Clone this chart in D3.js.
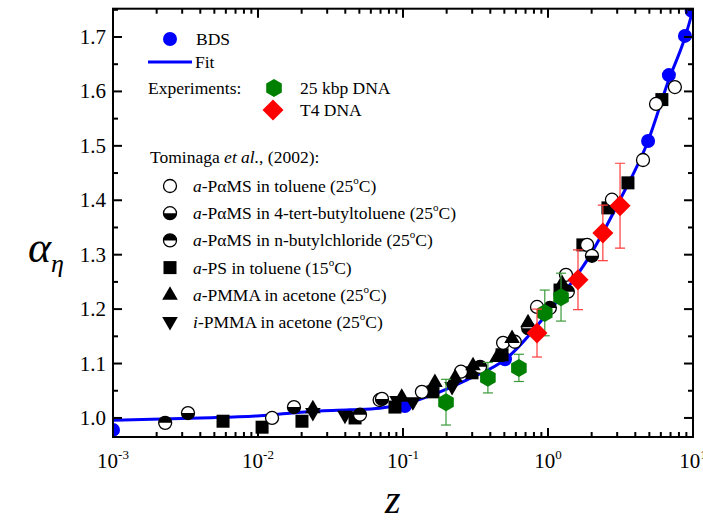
<!DOCTYPE html>
<html lang="en"><head>
<meta charset="utf-8">
<title>alpha_eta vs z</title>
<script src="https://cdn.jsdelivr.net/npm/d3@7"></script>
<style>
  body { margin: 0; background: #fff; }
  text { font-family: "Liberation Serif", "Times New Roman", serif; fill: #000; }
</style>
</head>
<body>
<svg width="703" height="525"></svg>
<script>
// ---- values ----
// BDS simulation points
var bdsZ = [0.001, 0.103, 0.505, 4.9, 6.82, 8.8, 9.8];
var bdsA = [0.978, 1.022, 1.108, 1.509, 1.630, 1.702, 1.748];

// fit curve
var fitZ = [0.001, 0.004, 0.0103, 0.021, 0.043, 0.069, 0.103, 0.18, 0.276, 0.52, 0.98, 1.86, 3.14, 4.9, 6.8, 8.8, 10];
var fitA = [0.996, 1.000, 1.004, 1.011, 1.015, 1.018, 1.026, 1.048, 1.070, 1.110, 1.191, 1.290, 1.401, 1.509, 1.621, 1.699, 1.750];

// experiments
var dna25Z = [0.198, 0.385, 0.63, 0.95, 1.23];
var dna25A = [1.029, 1.074, 1.092, 1.193, 1.222];
var dna25E = [0.042, 0.028, 0.025, 0.042, 0.044];

var t4Z = [0.84, 1.61, 2.39, 3.14];
var t4A = [1.156, 1.254, 1.340, 1.390];
var t4E = [0.044, 0.055, 0.051, 0.078];

// Tominaga et al. (2002)
var pamsTolZ = [0.0125, 0.069, 0.135, 0.251, 0.49, 0.59, 0.84, 1.33, 1.86, 2.76, 4.52, 5.56, 7.5];
var pamsTolA = [1.000, 1.033, 1.048, 1.085, 1.138, 1.140, 1.204, 1.263, 1.318, 1.401, 1.474, 1.577, 1.608];

var pamsTbtZ = [0.00329, 0.0177, 0.0716, 0.73, 2.01];
var pamsTbtA = [1.009, 1.020, 1.035, 1.165, 1.298];

var pamsNbcZ = [0.00229, 0.0505, 0.340, 1.03, 1.37];
var pamsNbcA = [0.991, 1.006, 1.094, 1.202, 1.232];

var psTolZ = [0.00574, 0.01067, 0.0201, 0.0467, 0.088, 0.161, 0.299, 0.482, 1.21, 1.74, 2.59, 3.56, 6.1];
var psTolA = [0.994, 0.983, 0.994, 1.000, 1.020, 1.048, 1.083, 1.116, 1.235, 1.318, 1.386, 1.432, 1.585];

var aPmmaZ = [0.0239, 0.098, 0.166, 0.229, 0.304, 0.445, 0.565, 0.728, 1.25];
var aPmmaA = [1.018, 1.039, 1.066, 1.075, 1.097, 1.112, 1.147, 1.176, 1.248];

var iPmmaZ = [0.0239, 0.0398, 0.091, 0.117, 0.218];
var iPmmaA = [1.009, 1.004, 1.031, 1.029, 1.057];

var xTickVals = [1e-3, 1e-2, 1e-1, 1, 10];
var xTickExp = ["-3", "-2", "-1", "0", "1"];
var yTickVals = [1.0, 1.1, 1.2, 1.3, 1.4, 1.5, 1.6, 1.7];
var yTickLabels = ["1.0", "1.1", "1.2", "1.3", "1.4", "1.5", "1.6", "1.7"];

// ---- layout ----
var svg = d3.select("svg");
var pLeft = 113, pRight = 693, pTop = 8.7, pBottom = 437;

var x = d3.scaleLog().domain([1e-3, 10]).range([pLeft, pRight]);
var y = d3.scaleLinear().domain([0.965, 1.752]).range([pBottom, pTop]);

function zip(a, b) { return a.map(function (v, i) { return [v, b[i]]; }); }

svg.append("clipPath").attr("id", "clip")
  .append("rect").attr("x", pLeft).attr("y", pTop).attr("width", pRight - pLeft).attr("height", pBottom - pTop);

var plot = svg.append("g").attr("clip-path", "url(#clip)");

// marker drawing
function marker(g, type, cx, cy) {
  var m = g.append("g").attr("transform", "translate(" + cx + "," + cy + ")");
  var r = 6.5;
  if (type == "open" || type == "halfTop" || type == "halfBottom") {
    m.append("circle").attr("r", r).attr("fill", "#fff").attr("stroke", "#000").attr("stroke-width", 1.3);
    if (type == "halfTop")
      m.append("path").attr("d", "M" + (-r) + ",0A" + r + "," + r + " 0 0 1 " + r + ",0Z").attr("fill", "#000");
    if (type == "halfBottom")
      m.append("path").attr("d", "M" + (-r) + ",0A" + r + "," + r + " 0 0 0 " + r + ",0Z").attr("fill", "#000");
  } else if (type == "square") {
    m.append("rect").attr("x", -6.5).attr("y", -6.5).attr("width", 13).attr("height", 13).attr("fill", "#000");
  } else if (type == "up") {
    m.append("path").attr("d", "M0,-8.5L7.8,5L-7.8,5Z").attr("fill", "#000");
  } else if (type == "down") {
    m.append("path").attr("d", "M0,8.5L7.8,-5L-7.8,-5Z").attr("fill", "#000");
  } else if (type == "bds") {
    m.append("circle").attr("r", 7).attr("fill", "#0000ff");
  } else if (type == "hex") {
    var pts = d3.range(6).map(function (i) {
      var a = Math.PI / 3 * i - Math.PI / 2;
      return [9 * Math.cos(a), 9 * Math.sin(a)];
    });
    m.append("path").attr("d", "M" + pts.join("L") + "Z").attr("fill", "#008000");
  } else if (type == "diamond") {
    m.append("path").attr("d", "M0,-10.5L10.5,0L0,10.5L-10.5,0Z").attr("fill", "#ff0000");
  }
}

// fit line
var line = d3.line()
  .x(function (d) { return x(d[0]); })
  .y(function (d) { return y(d[1]); })
  .curve(d3.curveMonotoneX);

plot.append("path")
  .datum(zip(fitZ, fitA))
  .attr("d", line)
  .attr("fill", "none")
  .attr("stroke", "#0000ff")
  .attr("stroke-width", 3);

// BDS points
zip(bdsZ, bdsA).forEach(function (d) { marker(plot, "bds", x(d[0]), y(d[1])); });

// Tominaga sets
var sets = [
  ["square", psTolZ, psTolA],
  ["open", pamsTolZ, pamsTolA],
  ["halfBottom", pamsTbtZ, pamsTbtA],
  ["halfTop", pamsNbcZ, pamsNbcA],
  ["up", aPmmaZ, aPmmaA],
  ["down", iPmmaZ, iPmmaA]
];
sets.forEach(function (s) {
  zip(s[1], s[2]).forEach(function (d) { marker(plot, s[0], x(d[0]), y(d[1])); });
});

// experiments with error bars
function errSet(zs, as, es, col, type) {
  zs.forEach(function (z, i) {
    var cx = x(z), y1 = y(as[i] - es[i]), y2 = y(as[i] + es[i]);
    var g = plot.append("g").attr("stroke", col).attr("stroke-width", 1.2);
    g.append("line").attr("x1", cx).attr("x2", cx).attr("y1", y1).attr("y2", y2);
    g.append("line").attr("x1", cx - 5).attr("x2", cx + 5).attr("y1", y1).attr("y2", y1);
    g.append("line").attr("x1", cx - 5).attr("x2", cx + 5).attr("y1", y2).attr("y2", y2);
  });
  zs.forEach(function (z, i) { marker(plot, type, x(z), y(as[i])); });
}
errSet(dna25Z, dna25A, dna25E, "#3a9a3a", "hex");
errSet(t4Z, t4A, t4E, "#ff3a3a", "diamond");

// ---- axes ----
var ax = svg.append("g").attr("stroke", "#000").attr("stroke-width", 2);
ax.append("rect").attr("x", pLeft).attr("y", pTop).attr("width", pRight - pLeft).attr("height", pBottom - pTop).attr("fill", "none");

var xMinor = [];
[1e-3, 1e-2, 1e-1, 1].forEach(function (d) { for (var k = 2; k <= 9; k++) xMinor.push(d * k); });
var yMinor = d3.range(1.05, 1.76, 0.1);

function xt(v, len) {
  ax.append("line").attr("x1", x(v)).attr("x2", x(v)).attr("y1", pBottom).attr("y2", pBottom - len);
  ax.append("line").attr("x1", x(v)).attr("x2", x(v)).attr("y1", pTop).attr("y2", pTop + len);
}
function yt(v, len) {
  ax.append("line").attr("x1", pLeft).attr("x2", pLeft + len).attr("y1", y(v)).attr("y2", y(v));
  ax.append("line").attr("x1", pRight).attr("x2", pRight - len).attr("y1", y(v)).attr("y2", y(v));
}
xTickVals.forEach(function (v) { xt(v, 9); });
xMinor.forEach(function (v) { xt(v, 5); });
yTickVals.forEach(function (v) { yt(v, 9); });
yMinor.forEach(function (v) { yt(v, 5); });

// tick labels
yTickVals.forEach(function (v, i) {
  svg.append("text").attr("x", 106).attr("y", y(v) + 7)
    .attr("text-anchor", "end").attr("font-size", 21).text(yTickLabels[i]);
});
xTickVals.forEach(function (v, i) {
  var t = svg.append("text").attr("x", x(v)).attr("y", 468)
    .attr("text-anchor", "middle").attr("font-size", 21);
  t.append("tspan").text("10");
  t.append("tspan").attr("font-size", 13).attr("dy", -9).text(xTickExp[i]);
});

// axis titles
var ytl = svg.append("text").attr("x", 28).attr("y", 262).attr("font-size", 44).attr("font-style", "italic");
ytl.append("tspan").text("\u03B1");
ytl.append("tspan").attr("font-size", 26).attr("dy", 10).text("\u03B7");

svg.append("text").attr("x", 385).attr("y", 513).attr("font-size", 40)
  .attr("font-style", "italic").text("z");

// ---- legend ----
var lg = svg.append("g");
var fs = 17.5;
marker(lg, "bds", 170, 39);
lg.append("text").attr("x", 196).attr("y", 45).attr("font-size", fs).text("BDS");
lg.append("line").attr("x1", 148).attr("x2", 192).attr("y1", 62).attr("y2", 62)
  .attr("stroke", "#0000ff").attr("stroke-width", 3);
lg.append("text").attr("x", 195).attr("y", 68).attr("font-size", fs).text("Fit");
lg.append("text").attr("x", 148).attr("y", 94).attr("font-size", fs).text("Experiments:");
marker(lg, "hex", 274, 88);
lg.append("text").attr("x", 300).attr("y", 94).attr("font-size", fs).text("25 kbp DNA");
marker(lg, "diamond", 273, 110);
lg.append("text").attr("x", 300).attr("y", 116).attr("font-size", fs).text("T4 DNA");

var tt = lg.append("text").attr("x", 150).attr("y", 163).attr("font-size", fs);
tt.append("tspan").text("Tominaga ");
tt.append("tspan").attr("font-style", "italic").text("et al.");
tt.append("tspan").text(", (2002):");

var legRows = [
  ["open", "a", "-P\u03B1MS in toluene (25", "C)"],
  ["halfBottom", "a", "-P\u03B1MS in 4-tert-butyltoluene (25", "C)"],
  ["halfTop", "a", "-P\u03B1MS in n-butylchloride (25", "C)"],
  ["square", "a", "-PS in toluene (15", "C)"],
  ["up", "a", "-PMMA in acetone (25", "C)"],
  ["down", "i", "-PMMA in acetone (25", "C)"]
];
legRows.forEach(function (r, i) {
  var cy = 186 + i * 27.2;
  marker(lg, r[0], 170, cy);
  var t = lg.append("text").attr("x", 193).attr("y", cy + 6).attr("font-size", fs);
  t.append("tspan").attr("font-style", "italic").text(r[1]);
  t.append("tspan").text(r[2]);
  t.append("tspan").attr("font-size", 11).attr("dy", -8).text("o");
  t.append("tspan").attr("dy", 8).text(r[3]);
});
</script>
</body>
</html>
